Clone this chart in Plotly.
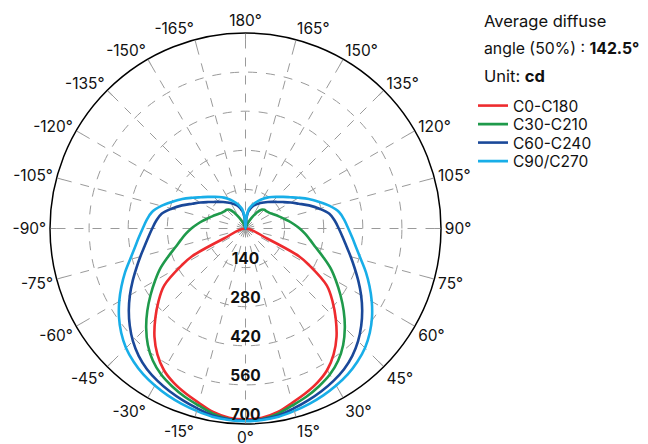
import plotly.graph_objects as go

# gamma angles (deg), symmetric half-plane values (cd)
c0_angles = [0, 5, 10, 15, 20, 25, 30, 35, 40, 45, 50, 55, 60, 62.5, 65, 67]
c0_c180 = [683, 680, 667, 646, 628, 609, 585, 550, 507, 457, 407, 355, 264, 217, 85, 0]

c30_angles = [0, 5, 10, 15, 20, 25, 30, 35, 40, 45, 50, 55, 60, 65, 70, 75, 80, 85, 90,
              95, 100, 105, 110, 115, 120, 125, 130, 135, 140, 145, 150, 155, 160, 165]
c30_c210 = [688, 685, 673, 655, 640, 623, 604, 578, 544, 503, 459, 415, 374, 336, 295, 260, 235, 214, 194,
            174, 156, 140, 127, 116, 107, 101, 97, 95, 88, 68, 45, 25, 10, 0]

angles = [0, 5, 10, 15, 20, 25, 30, 35, 40, 45, 50, 55, 60, 65, 70, 75, 80, 85, 90,
          95, 100, 105, 110, 115, 120, 125, 130, 135, 140, 145, 150, 155, 160, 165, 170, 175, 180]
c60_c240 = [688, 686, 680, 667, 655, 643, 630, 615, 595, 570, 541, 510, 478, 446, 416, 390, 367, 349, 334,
            321, 305, 274, 242, 210, 186, 165, 148, 135, 124, 114, 105, 97, 88, 77, 64, 39, 0]
c90_c270 = [690, 688, 684, 676, 668, 659, 649, 638, 623, 605, 581, 553, 522, 490, 459, 428, 403, 384, 368,
            355, 340, 312, 279, 250, 220, 195, 176, 160, 147, 135, 122, 109, 97, 85, 71, 44, 0]

series_names = ["C0-C180", "C30-C210", "C60-C240", "C90/C270"]
series_angles = [c0_angles, c30_angles, angles, angles]
series_values = [c0_c180, c30_c210, c60_c240, c90_c270]
colors = ["#EE2B2E", "#1F9A4B", "#1A4899", "#18AEE8"]

radial_ticks = [140, 280, 420, 560, 700]
angular_tickvals = list(range(0, 360, 15))
angular_ticktext = [f"{v}°" if v <= 180 else f"-{360 - v}°" for v in angular_tickvals]

# page offset of the figure inside the browser window (body margin)
OFF = 8
W, H = 648, 444
cx, cy, rad = 245.5 - OFF, 228.5 - OFF, 195.5

legend_ids = ["legend", "legend2", "legend3", "legend4"]
legend_rows = [107, 125.5, 144, 162.5]

fig = go.Figure()
for name, ang, vals, col, lg in zip(series_names, series_angles, series_values, colors, legend_ids):
    theta = [-a for a in reversed(ang)] + ang[1:]
    r = list(reversed(vals)) + vals[1:]
    fig.add_trace(go.Scatterpolar(theta=theta, r=r, mode="lines", name=name, legend=lg,
                                  line=dict(color=col, width=2.6, shape="spline", smoothing=1)))

fig.add_trace(go.Scatterpolar(theta=[0] * len(radial_ticks), r=radial_ticks, mode="text",
                              text=[f"<b>{v}</b>" for v in radial_ticks],
                              textposition="top center",
                              textfont=dict(size=15.5, color="#111", family="Inter"),
                              showlegend=False, hoverinfo="skip"))

legend_layout = {}
for lg, row in zip(legend_ids, legend_rows):
    legend_layout[lg] = dict(x=(512 - 39 - OFF) / W, y=(H - (row - OFF - 18)) / H,
                             xanchor="left", yanchor="top",
                             font=dict(size=15.5, color="#111"), bgcolor="rgba(0,0,0,0)")

fig.update_layout(
    width=W, height=H,
    margin=dict(l=0, r=0, t=0, b=0),
    paper_bgcolor="white",
    font=dict(family="Inter", size=15.5, color="#111"),
    polar=dict(
        domain=dict(x=[(cx - rad) / W, (cx + rad) / W],
                    y=[(H - cy - rad) / H, (H - cy + rad) / H]),
        bgcolor="white",
        angularaxis=dict(
            rotation=-90, direction="counterclockwise",
            tickmode="array", tickvals=angular_tickvals, ticktext=angular_ticktext,
            showline=True, linecolor="black", linewidth=1.5,
            showgrid=True, gridcolor="#9a9a9a", gridwidth=1, griddash="dash",
            ticks="inside", ticklen=6, tickcolor="#9a9a9a",
            tickfont=dict(size=15.5, color="#111"),
        ),
        radialaxis=dict(
            range=[0, 700], tickmode="array", tickvals=radial_ticks,
            showticklabels=False, ticks="", showline=False,
            showgrid=True, gridcolor="#9a9a9a", gridwidth=1, griddash="dash",
        ),
    ),
    annotations=[
        dict(text="Average diffuse", x=(484 - 2 - OFF) / W, y=(H - (21 - OFF)) / H,
             xref="paper", yref="paper", xanchor="left", yanchor="middle",
             showarrow=False, font=dict(size=16.5)),
        dict(text="angle (50%) : <b>142.5°</b>", x=(484 - 2 - OFF) / W, y=(H - (49 - OFF)) / H,
             xref="paper", yref="paper", xanchor="left", yanchor="middle",
             showarrow=False, font=dict(size=15.8)),
        dict(text="Unit: <b>cd</b>", x=(484 - 2 - OFF) / W, y=(H - (76 - OFF)) / H,
             xref="paper", yref="paper", xanchor="left", yanchor="middle",
             showarrow=False, font=dict(size=16.5)),
    ],
    **legend_layout,
)

fig.write_html("out.html")
